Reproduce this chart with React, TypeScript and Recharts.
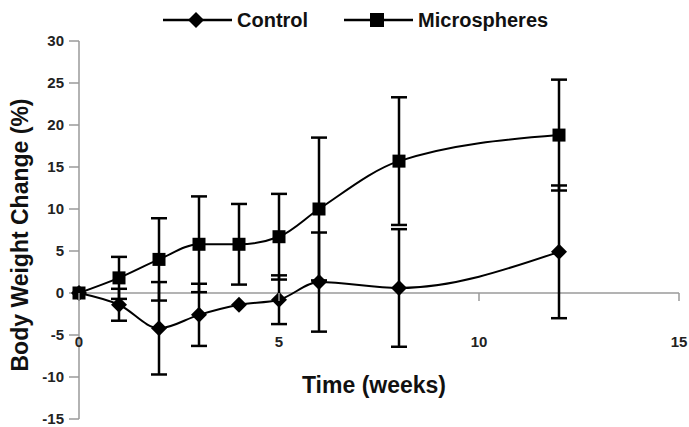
import { LineChart, Line, XAxis, YAxis, ErrorBar, ReferenceLine } from "recharts";

const weeks = [0, 1, 2, 3, 4, 5, 6, 8, 12];
const control = [0, -1.4, -4.2, -2.6, -1.4, -0.8, 1.3, 0.6, 4.9];
const controlErr = [0, 1.9, 5.5, 3.7, 0, 2.9, 5.9, 7.0, 7.9];
const micro = [0, 1.8, 4.0, 5.8, 5.8, 6.7, 10.0, 15.7, 18.8];
const microErr = [0, 2.5, 4.9, 5.7, 4.8, 5.1, 8.5, 7.6, 6.6];
const xTicks = [0, 5, 10, 15];
const yTicks = [-15, -10, -5, 0, 5, 10, 15, 20, 25, 30];

const W = 689;
const H = 427;
const TOP = 41;
const BOTTOM = 7;
const XH = 1;
const Y_MIN = -15;
const Y_MAX = 30;
const FONT = "'Liberation Sans', Arial, sans-serif";
const AXIS = "#9a9a9a";

const data = weeks.map((w, i) => ({
  week: w,
  control: control[i],
  cErr: controlErr[i],
  micro: micro[i],
  mErr: microErr[i],
}));

const zeroY = TOP + ((H - TOP - BOTTOM - XH) * Y_MAX) / (Y_MAX - Y_MIN);

function Diamond(props: any) {
  const { cx, cy } = props;
  if (cx == null || cy == null) return null;
  const r = 8;
  return <path d={`M${cx},${cy - r}L${cx + r},${cy}L${cx},${cy + r}L${cx - r},${cy}Z`} fill="#000" />;
}

function Square(props: any) {
  const { cx, cy } = props;
  if (cx == null || cy == null) return null;
  const s = 6.5;
  return <rect x={cx - s} y={cy - s} width={s * 2} height={s * 2} fill="#000" />;
}

function XTick(props: any) {
  const { x, payload } = props;
  return (
    <g>
      <line x1={x} x2={x} y1={zeroY} y2={zeroY + 8} stroke={AXIS} strokeWidth={1.5} />
      <text x={x} y={zeroY + 54} textAnchor="middle" fontSize={15} fontWeight="bold" fill="#222" fontFamily={FONT}>
        {payload.value}
      </text>
    </g>
  );
}

function LegendIcon({ kind }: { kind: "d" | "s" }) {
  return (
    <svg width={69} height={18} style={{ marginRight: 5, display: "block" }}>
      <line x1={0} x2={69} y1={9} y2={9} stroke="#000" strokeWidth={2.5} />
      {kind === "d" ? (
        <path d="M33,1L41,9L33,17L25,9Z" fill="#000" />
      ) : (
        <rect x={26} y={2} width={14} height={14} fill="#000" />
      )}
    </svg>
  );
}

export default function App() {
  return (
    <div style={{ position: "absolute", left: 0, top: 0, width: W, height: H, background: "#fff" }}>
      <div
        style={{
          position: "absolute",
          top: 8,
          left: 163,
          height: 24,
          display: "flex",
          alignItems: "center",
          fontFamily: FONT,
          fontWeight: "bold",
          fontSize: 20,
          color: "#111",
          whiteSpace: "nowrap",
        }}
      >
        <LegendIcon kind="d" />
        <span style={{ marginRight: 36 }}>Control</span>
        <LegendIcon kind="s" />
        <span>Microspheres</span>
      </div>
      <LineChart width={W} height={H} data={data} margin={{ top: TOP, right: 10, bottom: BOTTOM, left: 0 }}>
        <XAxis
          dataKey="week"
          type="number"
          domain={[0, 15]}
          ticks={xTicks}
          height={XH}
          axisLine={false}
          tickLine={false}
          tick={<XTick />}
          interval={0}
          label={{
            content: () => (
              <text x={374} y={393} textAnchor="middle" fontSize={23} fontWeight="bold" fill="#111" fontFamily={FONT}>
                Time (weeks)
              </text>
            ),
          }}
        />
        <YAxis
          type="number"
          domain={[Y_MIN, Y_MAX]}
          ticks={yTicks}
          width={79}
          interval={0}
          stroke={AXIS}
          tickSize={10}
          tickMargin={5}
          tick={{ fontSize: 15, fontWeight: "bold", fill: "#222", fontFamily: FONT }}
          axisLine={{ stroke: AXIS, strokeWidth: 1.5 }}
          tickLine={{ stroke: AXIS, strokeWidth: 1.5 }}
          label={{
            content: () => (
              <text
                x={28}
                y={235}
                transform="rotate(-90 28 235)"
                textAnchor="middle"
                fontSize={23}
                fontWeight="bold"
                fill="#111"
                fontFamily={FONT}
              >
                Body Weight Change (%)
              </text>
            ),
          }}
        />
        <ReferenceLine y={0} stroke={AXIS} strokeWidth={1.5} />
        <Line
          dataKey="control"
          type="monotone"
          stroke="#000"
          strokeWidth={2}
          dot={<Diamond />}
          isAnimationActive={false}
        >
          <ErrorBar dataKey="cErr" direction="y" width={8} stroke="#000" strokeWidth={2.5} />
        </Line>
        <Line
          dataKey="micro"
          type="monotone"
          stroke="#000"
          strokeWidth={2}
          dot={<Square />}
          isAnimationActive={false}
        >
          <ErrorBar dataKey="mErr" direction="y" width={8} stroke="#000" strokeWidth={2.5} />
        </Line>
      </LineChart>
    </div>
  );
}
